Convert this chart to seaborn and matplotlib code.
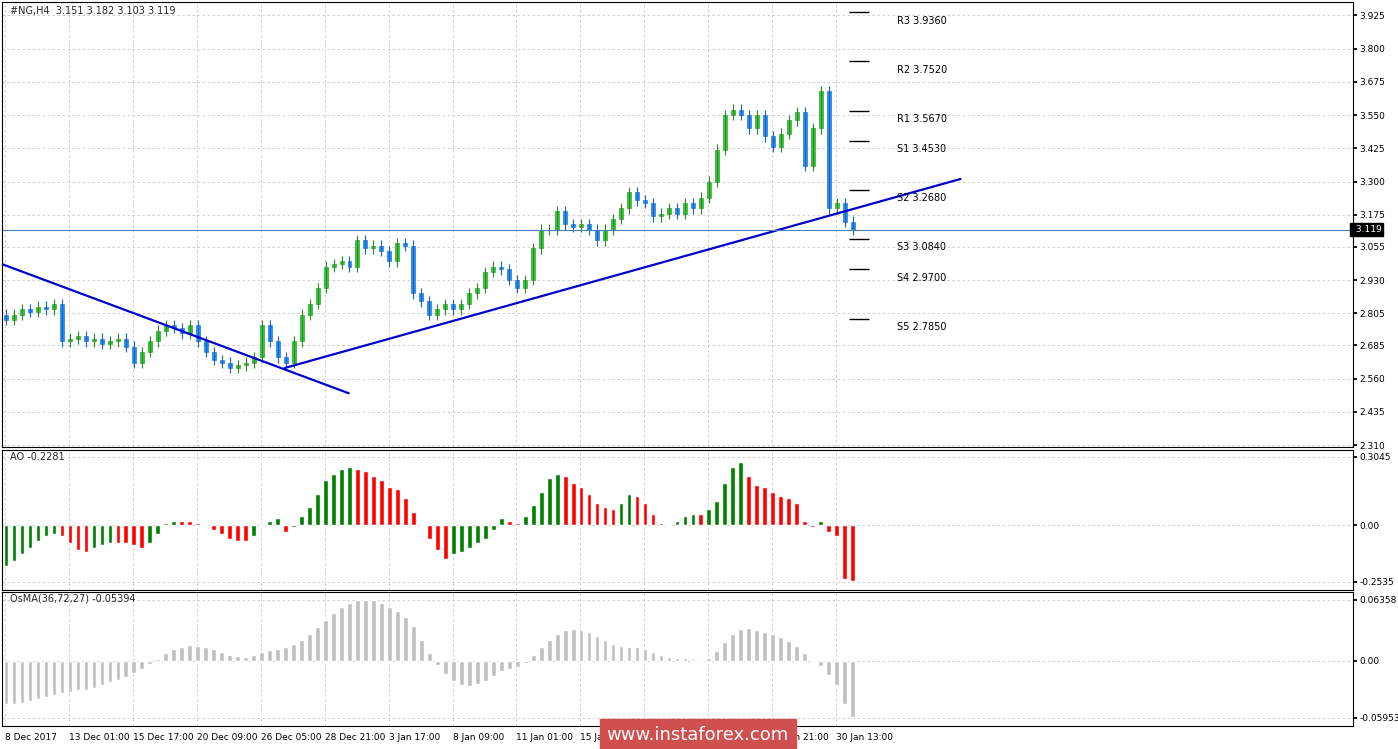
import numpy as np
import matplotlib
matplotlib.use("Agg")
import matplotlib.pyplot as plt
import seaborn as sns

CLOSE = [2.78,2.80,2.82,2.81,2.83,2.82,2.84,2.70,2.71,2.72,2.70,2.71,2.69,2.70,2.71,2.68,2.62,2.66,2.70,2.74,
         2.76,2.75,2.73,2.76,2.70,2.66,2.63,2.62,2.60,2.61,2.62,2.64,2.76,2.70,2.64,2.62,2.70,2.80,2.84,2.90,
         2.98,2.99,3.00,2.98,3.08,3.05,3.06,3.04,3.00,3.07,3.06,2.88,2.85,2.80,2.82,2.84,2.82,2.84,2.88,2.90,
         2.96,2.98,2.97,2.93,2.90,2.93,3.05,3.12,3.12,3.19,3.14,3.13,3.14,3.12,3.08,3.12,3.16,3.20,3.26,3.23,
         3.22,3.17,3.18,3.20,3.18,3.22,3.20,3.24,3.30,3.42,3.55,3.57,3.55,3.50,3.55,3.47,3.43,3.48,3.53,3.56,
         3.36,3.50,3.64,3.20,3.22,3.15,3.12]
FIRST_OPEN = 2.80
WICK = 0.02
AO = [-0.18,-0.16,-0.13,-0.10,-0.07,-0.05,-0.04,-0.05,-0.08,-0.11,-0.12,-0.10,-0.09,-0.08,-0.08,-0.08,-0.09,-0.10,-0.08,-0.04,
      0.01,0.02,0.02,0.02,0.01,0.0,-0.02,-0.04,-0.06,-0.07,-0.07,-0.05,0.0,0.02,0.03,-0.03,-0.01,0.04,0.08,0.14,
      0.20,0.23,0.25,0.26,0.25,0.24,0.22,0.20,0.17,0.16,0.12,0.06,0.0,-0.06,-0.11,-0.15,-0.13,-0.12,-0.10,-0.08,
      -0.06,-0.02,0.03,0.02,0.01,0.04,0.09,0.15,0.21,0.23,0.22,0.19,0.17,0.14,0.10,0.08,0.07,0.10,0.14,0.13,
      0.10,0.05,0.01,0.0,0.02,0.04,0.05,0.05,0.07,0.11,0.19,0.26,0.28,0.22,0.18,0.17,0.15,0.13,0.12,0.10,
      0.02,-0.01,0.02,-0.03,-0.05,-0.24,-0.25]
OSMA = [-0.045,-0.045,-0.044,-0.042,-0.04,-0.038,-0.036,-0.034,-0.032,-0.030,-0.030,-0.028,-0.025,-0.022,-0.02,-0.017,-0.013,-0.008,-0.003,0.002,
        0.008,0.012,0.015,0.017,0.016,0.014,0.012,0.009,0.006,0.005,0.004,0.006,0.009,0.011,0.012,0.014,0.018,0.022,0.028,0.035,
        0.043,0.050,0.056,0.060,0.063,0.064,0.063,0.060,0.056,0.052,0.046,0.036,0.022,0.008,-0.004,-0.014,-0.021,-0.025,-0.026,-0.024,
        -0.021,-0.016,-0.011,-0.008,-0.006,-0.002,0.006,0.014,0.022,0.028,0.032,0.033,0.032,0.030,0.026,0.022,0.018,0.016,0.015,0.014,
        0.012,0.009,0.006,0.004,0.003,0.003,0.002,0.001,0.003,0.010,0.020,0.028,0.033,0.034,0.032,0.030,0.028,0.025,0.021,0.016,
        0.008,0.0,-0.005,-0.015,-0.025,-0.045,-0.058]
PIVOT_NAMES = ["R3","R2","R1","S1","S2","S3","S4","S5"]
PIVOT_VALUES = [3.9360,3.7520,3.5670,3.4530,3.2680,3.0840,2.9700,2.7850]
TREND1_X = [-0.5, 42.9]; TREND1_Y = [2.99, 2.505]
TREND2_X = [34.9, 119.5]; TREND2_Y = [2.60, 3.31]
LAST_PRICE = 3.119
PRICE_TICKS = [3.925,3.800,3.675,3.550,3.425,3.300,3.175,3.055,2.930,2.805,2.685,2.560,2.435,2.310]
AO_TICKS = [0.3045, 0.0, -0.2535]; AO_TICKLABELS = ["0.3045","0.00","-0.2535"]
OSMA_TICKS = [0.06358, 0.0, -0.05953]; OSMA_TICKLABELS = ["0.06358","0.00","-0.05953"]
DATE_LABELS = ["8 Dec 2017","13 Dec 01:00","15 Dec 17:00","20 Dec 09:00","26 Dec 05:00","28 Dec 21:00",
               "3 Jan 17:00","8 Jan 09:00","11 Jan 01:00","15 Jan 17:00","18 Jan 09:00","23 Jan 01:00",
               "25 Jan 21:00","30 Jan 13:00"]

sns.set_theme(style="white")
plt.rcParams["font.family"] = "DejaVu Sans"
fig = plt.figure(figsize=(13.98, 7.49), dpi=100)
L, W = 0.0015, 0.966
ax1 = fig.add_axes([L, 0.403, W, 0.594])
ax2 = fig.add_axes([L, 0.2123, W, 0.187])
ax3 = fig.add_axes([L, 0.0307, W, 0.179])

n = len(CLOSE)
idx = np.arange(n)
close = np.array(CLOSE)
opn = np.concatenate([[FIRST_OPEN], close[:-1]])
hi = np.maximum(opn, close) + WICK
lo = np.minimum(opn, close) - WICK
up = close >= opn
GREEN = "#32CD32"; BLUE = "#1E90FF"
ax1.vlines(idx[up], lo[up], hi[up], color="#228B22", lw=0.8)
ax1.vlines(idx[~up], lo[~up], hi[~up], color="#1565C0", lw=0.8)
ax1.bar(idx[up], close[up]-opn[up], bottom=opn[up], width=0.5, color=GREEN, edgecolor="#228B22", lw=0.4)
ax1.bar(idx[~up], close[~up]-opn[~up], bottom=opn[~up], width=0.5, color=BLUE, edgecolor="#1565C0", lw=0.4)

sns.lineplot(x=TREND1_X, y=TREND1_Y, ax=ax1, color="#0000CD", lw=1.6)
sns.lineplot(x=TREND2_X, y=TREND2_Y, ax=ax1, color="#0000CD", lw=1.6)
ax1.axhline(LAST_PRICE, color="#4682B4", lw=0.8)

for nm, v in zip(PIVOT_NAMES, PIVOT_VALUES):
    ax1.hlines(v, 105.5, 108, color="black", lw=1)
    ax1.text(111.6, v - 0.012, f"{nm} {v:.4f}", fontsize=7, va="top", ha="left", color="black")

ax1.text(0.5, 3.96, "#NG,H4  3.151 3.182 3.103 3.119", fontsize=7, va="top")

ao = np.array(AO)
ao_col = ["#008000" if i == 0 or ao[i] > ao[i-1] else "#FF0000" for i in range(n)]
ax2.bar(idx, ao, width=0.6, color=ao_col)
ax2.text(0.5, 0.325, "AO -0.2281", fontsize=7, va="top")
ax3.bar(idx, OSMA, width=0.6, color="#C0C0C0")
ax3.text(0.5, 0.070, "OsMA(36,72,27) -0.05394", fontsize=7, va="top")

for ax in (ax1, ax2, ax3):
    ax.set_xlim(-0.5, 168.6)
    ax.yaxis.tick_right()
    ax.tick_params(axis="y", labelsize=6.5, length=3, pad=2, colors="black")
    ax.tick_params(axis="x", labelsize=6.5, length=3, pad=2, colors="black")
    ax.set_xticks(np.arange(0, 8*len(DATE_LABELS), 8) - 0.1)
    ax.grid(True, color="#C8C8C8", ls=(0, (3, 3)), lw=0.6)
    for s in ax.spines.values():
        s.set_color("black"); s.set_linewidth(0.8)
    ax.set_facecolor("white")

ax1.set_ylim(2.3025, 3.974)
ax1.set_yticks(PRICE_TICKS)
ax1.set_yticklabels([f"{t:.3f}" for t in PRICE_TICKS])
ax1.set_xticklabels([])
ax2.set_ylim(-0.2892, 0.3357)
ax2.set_yticks(AO_TICKS); ax2.set_yticklabels(AO_TICKLABELS); ax2.set_xticklabels([])
ax3.set_ylim(-0.0679, 0.0719)
ax3.set_yticks(OSMA_TICKS); ax3.set_yticklabels(OSMA_TICKLABELS)
ax3.set_xticklabels(DATE_LABELS, ha="left")

ax1.text(1.0, LAST_PRICE, " 3.119", transform=ax1.get_yaxis_transform(), fontsize=6.5, va="center",
         ha="left", color="white", bbox=dict(facecolor="black", edgecolor="black", pad=1.5))

fig.text(0.499, 0.019, "www.instaforex.com", fontsize=13, color="white", ha="center", va="center",
         bbox=dict(facecolor="#D05050", edgecolor="#D05050", pad=5))
fig.savefig("out.png", dpi=100)
